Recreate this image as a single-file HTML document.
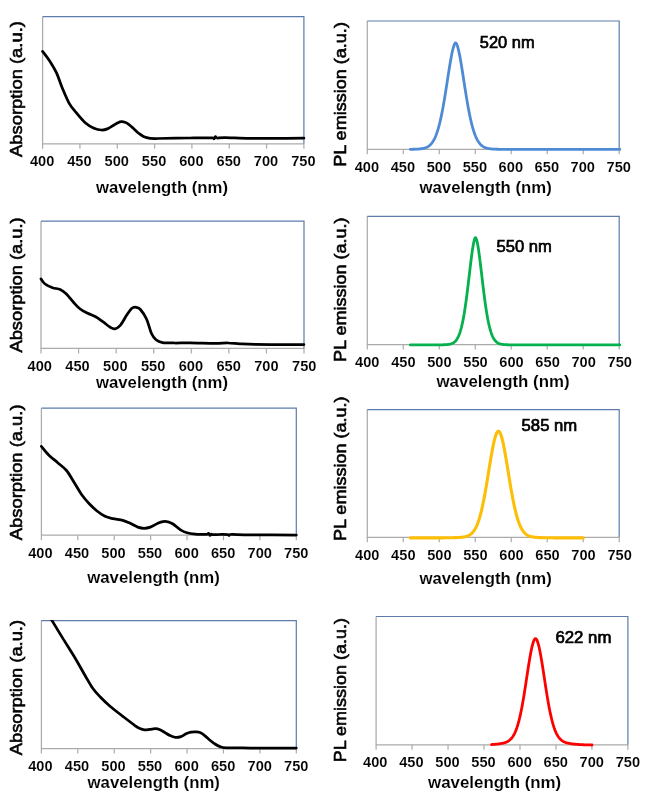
<!DOCTYPE html>
<html lang="en"><head><meta charset="utf-8"><title>Absorption and PL emission spectra</title>
<style>html,body{margin:0;padding:0;background:#fff}svg{display:block;filter:blur(0.35px)}text{font-family:"Liberation Sans", sans-serif;fill:#000}</style></head><body>
<svg width="650" height="798" viewBox="0 0 650 798">
<rect width="650" height="798" fill="#fff"/>
<g id="panel1">
<path d="M42.60,16.70 V143.80 H303.90" fill="none" stroke="#ababab" stroke-width="1.25"/>
<path d="M42.60,143.80 v5 M79.93,143.80 v5 M117.26,143.80 v5 M154.59,143.80 v5 M191.91,143.80 v5 M229.24,143.80 v5 M266.57,143.80 v5 M303.90,143.80 v5 " fill="none" stroke="#ababab" stroke-width="1.2"/>
<path d="M42.60,16.70 H303.90 V143.80" fill="none" stroke="#5c7cab" stroke-width="1.2"/>
<path d="M42.60,51.40 C43.83,53.07 47.70,57.85 50.00,61.40 C52.30,64.95 54.28,68.10 56.40,72.70 C58.52,77.30 60.62,83.98 62.70,89.00 C64.78,94.02 66.82,99.05 68.90,102.80 C70.98,106.55 72.48,108.17 75.20,111.50 C77.92,114.83 82.07,120.00 85.20,122.80 C88.33,125.60 91.28,127.10 94.00,128.30 C96.72,129.50 99.17,129.95 101.50,130.00 C103.83,130.05 105.92,129.43 108.00,128.60 C110.08,127.77 112.33,125.98 114.00,125.00 C115.67,124.02 116.75,123.25 118.00,122.70 C119.25,122.15 120.33,121.77 121.50,121.70 C122.67,121.63 123.75,121.82 125.00,122.30 C126.25,122.78 127.50,123.48 129.00,124.60 C130.50,125.72 132.33,127.52 134.00,129.00 C135.67,130.48 137.33,132.20 139.00,133.50 C140.67,134.80 142.17,136.00 144.00,136.80 C145.83,137.60 147.67,138.02 150.00,138.30 C152.33,138.58 151.33,138.55 158.00,138.50 C164.67,138.45 181.00,138.10 190.00,138.00 C199.00,137.90 208.00,137.77 212.00,137.90 C216.00,138.03 213.42,139.02 214.00,138.80 C214.58,138.58 215.00,136.73 215.50,136.60 C216.00,136.47 215.42,137.83 217.00,138.00 C218.58,138.17 219.50,137.53 225.00,137.60 C230.50,137.67 240.83,138.27 250.00,138.40 C259.17,138.53 271.02,138.43 280.00,138.40 C288.98,138.37 299.92,138.23 303.90,138.20" fill="none" stroke="#000" stroke-width="2.75" stroke-linecap="round" stroke-linejoin="round"/>
<text x="42.10" y="165.80" font-size="14.4" font-weight="bold" stroke="#fff" stroke-width="0.1" text-anchor="middle" textLength="24.4" lengthAdjust="spacingAndGlyphs">400</text>
<text x="79.43" y="165.80" font-size="14.4" font-weight="bold" stroke="#fff" stroke-width="0.1" text-anchor="middle" textLength="24.4" lengthAdjust="spacingAndGlyphs">450</text>
<text x="116.76" y="165.80" font-size="14.4" font-weight="bold" stroke="#fff" stroke-width="0.1" text-anchor="middle" textLength="24.4" lengthAdjust="spacingAndGlyphs">500</text>
<text x="154.09" y="165.80" font-size="14.4" font-weight="bold" stroke="#fff" stroke-width="0.1" text-anchor="middle" textLength="24.4" lengthAdjust="spacingAndGlyphs">550</text>
<text x="191.41" y="165.80" font-size="14.4" font-weight="bold" stroke="#fff" stroke-width="0.1" text-anchor="middle" textLength="24.4" lengthAdjust="spacingAndGlyphs">600</text>
<text x="228.74" y="165.80" font-size="14.4" font-weight="bold" stroke="#fff" stroke-width="0.1" text-anchor="middle" textLength="24.4" lengthAdjust="spacingAndGlyphs">650</text>
<text x="266.07" y="165.80" font-size="14.4" font-weight="bold" stroke="#fff" stroke-width="0.1" text-anchor="middle" textLength="24.4" lengthAdjust="spacingAndGlyphs">700</text>
<text x="303.40" y="165.80" font-size="14.4" font-weight="bold" stroke="#fff" stroke-width="0.1" text-anchor="middle" textLength="24.4" lengthAdjust="spacingAndGlyphs">750</text>
<text x="96.00" y="192.50" font-size="17" font-weight="bold" stroke="#fff" stroke-width="0.12" textLength="132.00" lengthAdjust="spacingAndGlyphs">wavelength (nm)</text>
<text transform="translate(22.30,157.00) rotate(-90)" font-size="17.2" stroke="#000" stroke-width="0.6" textLength="135.90" lengthAdjust="spacingAndGlyphs">Absorption (a.u.)</text>
</g>
<g id="panel2">
<path d="M367.30,21.00 V149.30 H619.20" fill="none" stroke="#ababab" stroke-width="1.25"/>
<path d="M367.30,149.30 v5 M403.29,149.30 v5 M439.27,149.30 v5 M475.26,149.30 v5 M511.24,149.30 v5 M547.23,149.30 v5 M583.21,149.30 v5 M619.20,149.30 v5 " fill="none" stroke="#ababab" stroke-width="1.2"/>
<path d="M367.30,21.00 H619.20 V149.30" fill="none" stroke="#5c7cab" stroke-width="1.2"/>
<path d="M410.30,149.31 L410.80,149.30 L411.30,149.30 L411.80,149.29 L412.30,149.28 L412.80,149.27 L413.30,149.26 L413.80,149.24 L414.30,149.23 L414.80,149.22 L415.30,149.20 L415.80,149.18 L416.30,149.16 L416.80,149.14 L417.30,149.11 L417.80,149.08 L418.30,149.05 L418.80,149.01 L419.30,148.97 L419.80,148.93 L420.30,148.87 L420.80,148.81 L421.30,148.75 L421.80,148.68 L422.30,148.59 L422.80,148.50 L423.30,148.40 L423.80,148.28 L424.30,148.15 L424.80,148.00 L425.30,147.84 L425.80,147.66 L426.30,147.45 L426.80,147.22 L427.30,146.97 L427.80,146.69 L428.30,146.38 L428.80,146.04 L429.30,145.66 L429.80,145.24 L430.30,144.77 L430.80,144.26 L431.30,143.70 L431.80,143.09 L432.30,142.42 L432.80,141.69 L433.30,140.89 L433.80,140.03 L434.30,139.08 L434.80,138.07 L435.30,136.96 L435.80,135.78 L436.30,134.50 L436.80,133.13 L437.30,131.66 L437.80,130.09 L438.30,128.41 L438.80,126.63 L439.30,124.75 L439.80,122.75 L440.30,120.64 L440.80,118.42 L441.30,116.09 L441.80,113.65 L442.30,111.11 L442.80,108.46 L443.30,105.72 L443.80,102.88 L444.30,99.95 L444.80,96.95 L445.30,93.88 L445.80,90.75 L446.30,87.57 L446.80,84.35 L447.30,81.12 L447.80,77.88 L448.30,74.66 L448.80,71.46 L449.30,68.32 L449.80,65.24 L450.30,62.26 L450.80,59.39 L451.30,56.65 L451.80,54.08 L452.30,51.70 L452.80,49.52 L453.30,47.59 L453.80,45.93 L454.30,44.57 L454.80,43.55 L455.30,42.93 L455.80,42.86 L456.30,43.40 L456.80,44.34 L457.30,45.63 L457.80,47.24 L458.30,49.12 L458.80,51.24 L459.30,53.59 L459.80,56.12 L460.30,58.83 L460.80,61.67 L461.30,64.64 L461.80,67.69 L462.30,70.83 L462.80,74.01 L463.30,77.24 L463.80,80.47 L464.30,83.71 L464.80,86.93 L465.30,90.11 L465.80,93.26 L466.30,96.34 L466.80,99.36 L467.30,102.30 L467.80,105.16 L468.30,107.92 L468.80,110.59 L469.30,113.15 L469.80,115.61 L470.30,117.96 L470.80,120.21 L471.30,122.34 L471.80,124.36 L472.30,126.27 L472.80,128.07 L473.30,129.76 L473.80,131.35 L474.30,132.84 L474.80,134.23 L475.30,135.53 L475.80,136.73 L476.30,137.85 L476.80,138.89 L477.30,139.84 L477.80,140.72 L478.30,141.54 L478.80,142.28 L479.30,142.96 L479.80,143.59 L480.30,144.16 L480.80,144.67 L481.30,145.15 L481.80,145.57 L482.30,145.96 L482.80,146.31 L483.30,146.63 L483.80,146.92 L484.30,147.18 L484.80,147.41 L485.30,147.62 L485.80,147.80 L486.30,147.97 L486.80,148.12 L487.30,148.25 L487.80,148.37 L488.30,148.48 L488.80,148.57 L489.30,148.66 L489.80,148.74 L490.30,148.80 L490.80,148.86 L491.30,148.92 L491.80,148.96 L492.30,149.00 L492.80,149.04 L493.30,149.08 L493.80,149.11 L494.30,149.13 L494.80,149.16 L495.30,149.18 L495.80,149.20 L496.30,149.21 L496.80,149.23 L497.30,149.24 L497.80,149.25 L498.30,149.27 L498.80,149.28 L499.30,149.29 L499.80,149.29 L500.30,149.30 L500.80,149.31 L501.30,149.32 L501.80,149.32 L502.30,149.33 L502.80,149.33 L503.30,149.34 L503.80,149.34 L504.30,149.34 L504.80,149.35 L505.30,149.35 L505.80,149.36 L506.30,149.36 L506.80,149.36 L507.30,149.36 L507.80,149.37 L508.30,149.37 L508.80,149.37 L509.30,149.37 L509.80,149.37 L510.30,149.38 L510.80,149.38 L511.30,149.38 L511.80,149.38 L512.30,149.38 L512.80,149.38 L513.30,149.38 L513.80,149.39 L514.30,149.39 L514.80,149.39 L515.30,149.39 L515.80,149.39 L516.30,149.39 L516.80,149.39 L517.30,149.39 L517.80,149.39 L518.30,149.39 L518.80,149.39 L519.30,149.39 L519.80,149.39 L520.30,149.39 L520.80,149.40 L521.30,149.40 L521.80,149.40 L522.30,149.40 L522.80,149.40 L523.30,149.40 L523.80,149.40 L524.30,149.40 L524.80,149.40 L525.30,149.40 L525.80,149.40 L526.30,149.40 L526.80,149.40 L527.30,149.40 L527.80,149.40 L528.30,149.40 L528.80,149.40 L529.30,149.40 L529.80,149.40 L530.30,149.40 L530.80,149.40 L531.30,149.40 L531.80,149.40 L532.30,149.40 L532.80,149.40 L533.30,149.40 L533.80,149.40 L534.30,149.40 L534.80,149.40 L535.30,149.40 L535.80,149.40 L536.30,149.40 L536.80,149.40 L537.30,149.40 L537.80,149.40 L538.30,149.40 L538.80,149.40 L539.30,149.40 L539.80,149.40 L540.30,149.40 L540.80,149.40 L541.30,149.40 L541.80,149.40 L542.30,149.40 L542.80,149.40 L543.30,149.40 L543.80,149.40 L544.30,149.40 L544.80,149.40 L545.30,149.40 L545.80,149.40 L546.30,149.40 L546.80,149.40 L547.30,149.40 L547.80,149.40 L548.30,149.40 L548.80,149.40 L549.30,149.40 L549.80,149.40 L550.30,149.40 L550.80,149.40 L551.30,149.40 L551.80,149.40 L552.30,149.40 L552.80,149.40 L553.30,149.40 L553.80,149.40 L554.30,149.40 L554.80,149.40 L555.30,149.40 L555.80,149.40 L556.30,149.40 L556.80,149.40 L557.30,149.40 L557.80,149.40 L558.30,149.40 L558.80,149.40 L559.30,149.40 L559.80,149.40 L560.30,149.40 L560.80,149.40 L561.30,149.40 L561.80,149.40 L562.30,149.40 L562.80,149.40 L563.30,149.40 L563.80,149.40 L564.30,149.40 L564.80,149.40 L565.30,149.40 L565.80,149.40 L566.30,149.40 L566.80,149.40 L567.30,149.40 L567.80,149.40 L568.30,149.40 L568.80,149.40 L569.30,149.40 L569.80,149.40 L570.30,149.40 L570.80,149.40 L571.30,149.40 L571.80,149.40 L572.30,149.40 L572.80,149.40 L573.30,149.40 L573.80,149.40 L574.30,149.40 L574.80,149.40 L575.30,149.40 L575.80,149.40 L576.30,149.40 L576.80,149.40 L577.30,149.40 L577.80,149.40 L578.30,149.40 L578.80,149.40 L579.30,149.40 L579.80,149.40 L580.30,149.40 L580.80,149.40 L581.30,149.40 L581.80,149.40 L582.30,149.40 L582.80,149.40 L583.30,149.40 L583.80,149.40 L584.30,149.40 L584.80,149.40 L585.30,149.40 L585.80,149.40 L586.30,149.40 L586.80,149.40 L587.30,149.40 L587.80,149.40 L588.30,149.40 L588.80,149.40 L589.30,149.40 L589.80,149.40 L590.30,149.40 L590.80,149.40 L591.30,149.40 L591.80,149.40 L592.30,149.40 L592.80,149.40 L593.30,149.40 L593.80,149.40 L594.30,149.40 L594.80,149.40 L595.30,149.40 L595.80,149.40 L596.30,149.40 L596.80,149.40 L597.30,149.40 L597.80,149.40 L598.30,149.40 L598.80,149.40 L599.30,149.40 L599.80,149.40 L600.30,149.40 L600.80,149.40 L601.30,149.40 L601.80,149.40 L602.30,149.40 L602.80,149.40 L603.30,149.40 L603.80,149.40 L604.30,149.40 L604.80,149.40 L605.30,149.40 L605.80,149.40 L606.30,149.40 L606.80,149.40 L607.30,149.40 L607.80,149.40 L608.30,149.40 L608.80,149.40 L609.30,149.40 L609.80,149.40 L610.30,149.40 L610.80,149.40 L611.30,149.40 L611.80,149.40 L612.30,149.40 L612.80,149.40 L613.30,149.40 L613.80,149.40 L614.30,149.40 L614.80,149.40 L615.30,149.40 L615.80,149.40 L616.30,149.40 L616.80,149.40 L617.30,149.40 L617.80,149.40 L618.30,149.40 L618.80,149.40 L619.30,149.40 L619.80,149.40" fill="none" stroke="#4f8ad5" stroke-width="2.8" stroke-linecap="round" stroke-linejoin="round"/>
<text x="366.90" y="171.80" font-size="14.4" font-weight="bold" stroke="#fff" stroke-width="0.1" text-anchor="middle" textLength="24.4" lengthAdjust="spacingAndGlyphs">400</text>
<text x="402.89" y="171.80" font-size="14.4" font-weight="bold" stroke="#fff" stroke-width="0.1" text-anchor="middle" textLength="24.4" lengthAdjust="spacingAndGlyphs">450</text>
<text x="438.87" y="171.80" font-size="14.4" font-weight="bold" stroke="#fff" stroke-width="0.1" text-anchor="middle" textLength="24.4" lengthAdjust="spacingAndGlyphs">500</text>
<text x="474.86" y="171.80" font-size="14.4" font-weight="bold" stroke="#fff" stroke-width="0.1" text-anchor="middle" textLength="24.4" lengthAdjust="spacingAndGlyphs">550</text>
<text x="510.84" y="171.80" font-size="14.4" font-weight="bold" stroke="#fff" stroke-width="0.1" text-anchor="middle" textLength="24.4" lengthAdjust="spacingAndGlyphs">600</text>
<text x="546.83" y="171.80" font-size="14.4" font-weight="bold" stroke="#fff" stroke-width="0.1" text-anchor="middle" textLength="24.4" lengthAdjust="spacingAndGlyphs">650</text>
<text x="582.81" y="171.80" font-size="14.4" font-weight="bold" stroke="#fff" stroke-width="0.1" text-anchor="middle" textLength="24.4" lengthAdjust="spacingAndGlyphs">700</text>
<text x="618.80" y="171.80" font-size="14.4" font-weight="bold" stroke="#fff" stroke-width="0.1" text-anchor="middle" textLength="24.4" lengthAdjust="spacingAndGlyphs">750</text>
<text x="419.50" y="192.50" font-size="17" font-weight="bold" stroke="#fff" stroke-width="0.12" textLength="132.30" lengthAdjust="spacingAndGlyphs">wavelength (nm)</text>
<text transform="translate(346.00,166.80) rotate(-90)" font-size="17.2" stroke="#000" stroke-width="0.6" textLength="144.70" lengthAdjust="spacingAndGlyphs">PL emission (a.u.)</text>
<text x="479.80" y="47.70" font-size="17" stroke="#000" stroke-width="0.7" textLength="54.80" lengthAdjust="spacingAndGlyphs">520 nm</text>
</g>
<g id="panel3">
<path d="M41.00,221.20 V348.40 H304.00" fill="none" stroke="#ababab" stroke-width="1.25"/>
<path d="M41.00,348.40 v5 M78.57,348.40 v5 M116.14,348.40 v5 M153.71,348.40 v5 M191.29,348.40 v5 M228.86,348.40 v5 M266.43,348.40 v5 M304.00,348.40 v5 " fill="none" stroke="#ababab" stroke-width="1.2"/>
<path d="M41.00,221.20 H304.00 V348.40" fill="none" stroke="#5c7cab" stroke-width="1.2"/>
<path d="M41.00,278.90 C41.68,279.75 43.17,282.53 45.10,284.00 C47.03,285.47 50.08,286.78 52.60,287.70 C55.12,288.62 57.90,288.45 60.20,289.50 C62.50,290.55 64.12,291.78 66.40,294.00 C68.68,296.22 71.60,300.30 73.90,302.80 C76.20,305.30 77.90,307.25 80.20,309.00 C82.50,310.75 85.20,312.05 87.70,313.30 C90.20,314.55 92.68,315.12 95.20,316.50 C97.72,317.88 100.28,319.80 102.80,321.60 C105.32,323.40 108.30,326.10 110.30,327.30 C112.30,328.50 113.13,329.13 114.80,328.80 C116.47,328.47 118.33,327.55 120.30,325.30 C122.27,323.05 124.72,318.10 126.60,315.30 C128.48,312.50 130.02,309.83 131.60,308.50 C133.18,307.17 134.63,307.13 136.10,307.30 C137.57,307.47 138.67,307.55 140.40,309.50 C142.13,311.45 144.65,315.00 146.50,319.00 C148.35,323.00 149.92,330.03 151.50,333.50 C153.08,336.97 154.17,338.28 156.00,339.80 C157.83,341.32 159.33,342.07 162.50,342.60 C165.67,343.13 170.42,342.97 175.00,343.00 C179.58,343.03 183.33,342.75 190.00,342.80 C196.67,342.85 208.67,343.27 215.00,343.30 C221.33,343.33 223.83,342.92 228.00,343.00 C232.17,343.08 235.50,343.57 240.00,343.80 C244.50,344.03 248.33,344.27 255.00,344.40 C261.67,344.53 271.85,344.57 280.00,344.60 C288.15,344.63 299.92,344.60 303.90,344.60" fill="none" stroke="#000" stroke-width="2.75" stroke-linecap="round" stroke-linejoin="round"/>
<text x="39.80" y="370.80" font-size="14.4" font-weight="bold" stroke="#fff" stroke-width="0.1" text-anchor="middle" textLength="24.4" lengthAdjust="spacingAndGlyphs">400</text>
<text x="77.57" y="370.80" font-size="14.4" font-weight="bold" stroke="#fff" stroke-width="0.1" text-anchor="middle" textLength="24.4" lengthAdjust="spacingAndGlyphs">450</text>
<text x="115.34" y="370.80" font-size="14.4" font-weight="bold" stroke="#fff" stroke-width="0.1" text-anchor="middle" textLength="24.4" lengthAdjust="spacingAndGlyphs">500</text>
<text x="153.11" y="370.80" font-size="14.4" font-weight="bold" stroke="#fff" stroke-width="0.1" text-anchor="middle" textLength="24.4" lengthAdjust="spacingAndGlyphs">550</text>
<text x="190.89" y="370.80" font-size="14.4" font-weight="bold" stroke="#fff" stroke-width="0.1" text-anchor="middle" textLength="24.4" lengthAdjust="spacingAndGlyphs">600</text>
<text x="228.66" y="370.80" font-size="14.4" font-weight="bold" stroke="#fff" stroke-width="0.1" text-anchor="middle" textLength="24.4" lengthAdjust="spacingAndGlyphs">650</text>
<text x="266.43" y="370.80" font-size="14.4" font-weight="bold" stroke="#fff" stroke-width="0.1" text-anchor="middle" textLength="24.4" lengthAdjust="spacingAndGlyphs">700</text>
<text x="304.20" y="370.80" font-size="14.4" font-weight="bold" stroke="#fff" stroke-width="0.1" text-anchor="middle" textLength="24.4" lengthAdjust="spacingAndGlyphs">750</text>
<text x="96.00" y="387.50" font-size="17" font-weight="bold" stroke="#fff" stroke-width="0.12" textLength="132.00" lengthAdjust="spacingAndGlyphs">wavelength (nm)</text>
<text transform="translate(22.30,352.50) rotate(-90)" font-size="17.2" stroke="#000" stroke-width="0.6" textLength="135.20" lengthAdjust="spacingAndGlyphs">Absorption (a.u.)</text>
</g>
<g id="panel4">
<path d="M367.30,216.30 V344.50 H619.20" fill="none" stroke="#ababab" stroke-width="1.25"/>
<path d="M367.30,344.50 v5 M403.29,344.50 v5 M439.27,344.50 v5 M475.26,344.50 v5 M511.24,344.50 v5 M547.23,344.50 v5 M583.21,344.50 v5 M619.20,344.50 v5 " fill="none" stroke="#ababab" stroke-width="1.2"/>
<path d="M367.30,216.30 H619.20 V344.50" fill="none" stroke="#5c7cab" stroke-width="1.2"/>
<path d="M410.30,344.90 L410.80,344.90 L411.30,344.90 L411.80,344.90 L412.30,344.90 L412.80,344.90 L413.30,344.90 L413.80,344.90 L414.30,344.90 L414.80,344.90 L415.30,344.90 L415.80,344.90 L416.30,344.90 L416.80,344.90 L417.30,344.90 L417.80,344.90 L418.30,344.90 L418.80,344.90 L419.30,344.90 L419.80,344.90 L420.30,344.90 L420.80,344.90 L421.30,344.90 L421.80,344.90 L422.30,344.90 L422.80,344.90 L423.30,344.90 L423.80,344.90 L424.30,344.90 L424.80,344.90 L425.30,344.90 L425.80,344.90 L426.30,344.90 L426.80,344.89 L427.30,344.89 L427.80,344.89 L428.30,344.89 L428.80,344.89 L429.30,344.89 L429.80,344.89 L430.30,344.89 L430.80,344.89 L431.30,344.89 L431.80,344.89 L432.30,344.88 L432.80,344.88 L433.30,344.88 L433.80,344.88 L434.30,344.88 L434.80,344.88 L435.30,344.87 L435.80,344.87 L436.30,344.87 L436.80,344.86 L437.30,344.86 L437.80,344.86 L438.30,344.85 L438.80,344.85 L439.30,344.84 L439.80,344.84 L440.30,344.83 L440.80,344.82 L441.30,344.82 L441.80,344.81 L442.30,344.80 L442.80,344.78 L443.30,344.77 L443.80,344.76 L444.30,344.74 L444.80,344.72 L445.30,344.69 L445.80,344.66 L446.30,344.63 L446.80,344.59 L447.30,344.55 L447.80,344.49 L448.30,344.43 L448.80,344.36 L449.30,344.27 L449.80,344.18 L450.30,344.06 L450.80,343.93 L451.30,343.77 L451.80,343.59 L452.30,343.38 L452.80,343.13 L453.30,342.85 L453.80,342.53 L454.30,342.16 L454.80,341.74 L455.30,341.25 L455.80,340.70 L456.30,340.07 L456.80,339.36 L457.30,338.56 L457.80,337.66 L458.30,336.66 L458.80,335.53 L459.30,334.28 L459.80,332.89 L460.30,331.36 L460.80,329.67 L461.30,327.82 L461.80,325.79 L462.30,323.59 L462.80,321.21 L463.30,318.64 L463.80,315.88 L464.30,312.93 L464.80,309.80 L465.30,306.48 L465.80,302.98 L466.30,299.32 L466.80,295.50 L467.30,291.55 L467.80,287.48 L468.30,283.32 L468.80,279.09 L469.30,274.84 L469.80,270.59 L470.30,266.38 L470.80,262.26 L471.30,258.28 L471.80,254.47 L472.30,250.90 L472.80,247.61 L473.30,244.67 L473.80,242.14 L474.30,240.07 L474.80,238.56 L475.30,237.70 L475.80,237.81 L476.30,238.81 L476.80,240.44 L477.30,242.61 L477.80,245.23 L478.30,248.24 L478.80,251.59 L479.30,255.21 L479.80,259.06 L480.30,263.08 L480.80,267.22 L481.30,271.44 L481.80,275.69 L482.30,279.94 L482.80,284.16 L483.30,288.30 L483.80,292.35 L484.30,296.27 L484.80,300.06 L485.30,303.69 L485.80,307.16 L486.30,310.44 L486.80,313.54 L487.30,316.45 L487.80,319.17 L488.30,321.70 L488.80,324.05 L489.30,326.21 L489.80,328.20 L490.30,330.02 L490.80,331.67 L491.30,333.18 L491.80,334.54 L492.30,335.77 L492.80,336.87 L493.30,337.85 L493.80,338.73 L494.30,339.51 L494.80,340.20 L495.30,340.82 L495.80,341.35 L496.30,341.83 L496.80,342.24 L497.30,342.60 L497.80,342.91 L498.30,343.19 L498.80,343.42 L499.30,343.63 L499.80,343.80 L500.30,343.95 L500.80,344.08 L501.30,344.20 L501.80,344.29 L502.30,344.37 L502.80,344.44 L503.30,344.50 L503.80,344.56 L504.30,344.60 L504.80,344.64 L505.30,344.67 L505.80,344.70 L506.30,344.72 L506.80,344.74 L507.30,344.76 L507.80,344.77 L508.30,344.79 L508.80,344.80 L509.30,344.81 L509.80,344.82 L510.30,344.83 L510.80,344.83 L511.30,344.84 L511.80,344.84 L512.30,344.85 L512.80,344.85 L513.30,344.86 L513.80,344.86 L514.30,344.87 L514.80,344.87 L515.30,344.87 L515.80,344.87 L516.30,344.88 L516.80,344.88 L517.30,344.88 L517.80,344.88 L518.30,344.88 L518.80,344.89 L519.30,344.89 L519.80,344.89 L520.30,344.89 L520.80,344.89 L521.30,344.89 L521.80,344.89 L522.30,344.89 L522.80,344.89 L523.30,344.89 L523.80,344.89 L524.30,344.90 L524.80,344.90 L525.30,344.90 L525.80,344.90 L526.30,344.90 L526.80,344.90 L527.30,344.90 L527.80,344.90 L528.30,344.90 L528.80,344.90 L529.30,344.90 L529.80,344.90 L530.30,344.90 L530.80,344.90 L531.30,344.90 L531.80,344.90 L532.30,344.90 L532.80,344.90 L533.30,344.90 L533.80,344.90 L534.30,344.90 L534.80,344.90 L535.30,344.90 L535.80,344.90 L536.30,344.90 L536.80,344.90 L537.30,344.90 L537.80,344.90 L538.30,344.90 L538.80,344.90 L539.30,344.90 L539.80,344.90 L540.30,344.90 L540.80,344.90 L541.30,344.90 L541.80,344.90 L542.30,344.90 L542.80,344.90 L543.30,344.90 L543.80,344.90 L544.30,344.90 L544.80,344.90 L545.30,344.90 L545.80,344.90 L546.30,344.90 L546.80,344.90 L547.30,344.90 L547.80,344.90 L548.30,344.90 L548.80,344.90 L549.30,344.90 L549.80,344.90 L550.30,344.90 L550.80,344.90 L551.30,344.90 L551.80,344.90 L552.30,344.90 L552.80,344.90 L553.30,344.90 L553.80,344.90 L554.30,344.90 L554.80,344.90 L555.30,344.90 L555.80,344.90 L556.30,344.90 L556.80,344.90 L557.30,344.90 L557.80,344.90 L558.30,344.90 L558.80,344.90 L559.30,344.90 L559.80,344.90 L560.30,344.90 L560.80,344.90 L561.30,344.90 L561.80,344.90 L562.30,344.90 L562.80,344.90 L563.30,344.90 L563.80,344.90 L564.30,344.90 L564.80,344.90 L565.30,344.90 L565.80,344.90 L566.30,344.90 L566.80,344.90 L567.30,344.90 L567.80,344.90 L568.30,344.90 L568.80,344.90 L569.30,344.90 L569.80,344.90 L570.30,344.90 L570.80,344.90 L571.30,344.90 L571.80,344.90 L572.30,344.90 L572.80,344.90 L573.30,344.90 L573.80,344.90 L574.30,344.90 L574.80,344.90 L575.30,344.90 L575.80,344.90 L576.30,344.90 L576.80,344.90 L577.30,344.90 L577.80,344.90 L578.30,344.90 L578.80,344.90 L579.30,344.90 L579.80,344.90 L580.30,344.90 L580.80,344.90 L581.30,344.90 L581.80,344.90 L582.30,344.90 L582.80,344.90 L583.30,344.90 L583.80,344.90 L584.30,344.90 L584.80,344.90 L585.30,344.90 L585.80,344.90 L586.30,344.90 L586.80,344.90 L587.30,344.90 L587.80,344.90 L588.30,344.90 L588.80,344.90 L589.30,344.90 L589.80,344.90 L590.30,344.90 L590.80,344.90 L591.30,344.90 L591.80,344.90 L592.30,344.90 L592.80,344.90 L593.30,344.90 L593.80,344.90 L594.30,344.90 L594.80,344.90 L595.30,344.90 L595.80,344.90 L596.30,344.90 L596.80,344.90 L597.30,344.90 L597.80,344.90 L598.30,344.90 L598.80,344.90 L599.30,344.90 L599.80,344.90 L600.30,344.90 L600.80,344.90 L601.30,344.90 L601.80,344.90 L602.30,344.90 L602.80,344.90 L603.30,344.90 L603.80,344.90 L604.30,344.90 L604.80,344.90 L605.30,344.90 L605.80,344.90 L606.30,344.90 L606.80,344.90 L607.30,344.90 L607.80,344.90 L608.30,344.90 L608.80,344.90 L609.30,344.90 L609.80,344.90 L610.30,344.90 L610.80,344.90 L611.30,344.90 L611.80,344.90 L612.30,344.90 L612.80,344.90 L613.30,344.90 L613.80,344.90 L614.30,344.90 L614.80,344.90 L615.30,344.90 L615.80,344.90 L616.30,344.90 L616.80,344.90 L617.30,344.90 L617.80,344.90 L618.30,344.90 L618.80,344.90 L619.30,344.90 L619.80,344.90" fill="none" stroke="#05b04e" stroke-width="2.8" stroke-linecap="round" stroke-linejoin="round"/>
<text x="367.30" y="367.20" font-size="14.4" font-weight="bold" stroke="#fff" stroke-width="0.1" text-anchor="middle" textLength="24.4" lengthAdjust="spacingAndGlyphs">400</text>
<text x="403.36" y="367.20" font-size="14.4" font-weight="bold" stroke="#fff" stroke-width="0.1" text-anchor="middle" textLength="24.4" lengthAdjust="spacingAndGlyphs">450</text>
<text x="439.41" y="367.20" font-size="14.4" font-weight="bold" stroke="#fff" stroke-width="0.1" text-anchor="middle" textLength="24.4" lengthAdjust="spacingAndGlyphs">500</text>
<text x="475.47" y="367.20" font-size="14.4" font-weight="bold" stroke="#fff" stroke-width="0.1" text-anchor="middle" textLength="24.4" lengthAdjust="spacingAndGlyphs">550</text>
<text x="511.53" y="367.20" font-size="14.4" font-weight="bold" stroke="#fff" stroke-width="0.1" text-anchor="middle" textLength="24.4" lengthAdjust="spacingAndGlyphs">600</text>
<text x="547.59" y="367.20" font-size="14.4" font-weight="bold" stroke="#fff" stroke-width="0.1" text-anchor="middle" textLength="24.4" lengthAdjust="spacingAndGlyphs">650</text>
<text x="583.64" y="367.20" font-size="14.4" font-weight="bold" stroke="#fff" stroke-width="0.1" text-anchor="middle" textLength="24.4" lengthAdjust="spacingAndGlyphs">700</text>
<text x="619.70" y="367.20" font-size="14.4" font-weight="bold" stroke="#fff" stroke-width="0.1" text-anchor="middle" textLength="24.4" lengthAdjust="spacingAndGlyphs">750</text>
<text x="436.50" y="387.30" font-size="17" font-weight="bold" stroke="#fff" stroke-width="0.12" textLength="133.10" lengthAdjust="spacingAndGlyphs">wavelength (nm)</text>
<text transform="translate(346.00,361.90) rotate(-90)" font-size="17.2" stroke="#000" stroke-width="0.6" textLength="144.50" lengthAdjust="spacingAndGlyphs">PL emission (a.u.)</text>
<text x="496.60" y="252.20" font-size="17" stroke="#000" stroke-width="0.7" textLength="55.30" lengthAdjust="spacingAndGlyphs">550 nm</text>
</g>
<g id="panel5">
<path d="M41.40,408.20 V535.20 H296.30" fill="none" stroke="#ababab" stroke-width="1.25"/>
<path d="M41.40,535.20 v5 M77.81,535.20 v5 M114.23,535.20 v5 M150.64,535.20 v5 M187.06,535.20 v5 M223.47,535.20 v5 M259.89,535.20 v5 M296.30,535.20 v5 " fill="none" stroke="#ababab" stroke-width="1.2"/>
<path d="M41.40,408.20 H296.30 V535.20" fill="none" stroke="#5c7cab" stroke-width="1.2"/>
<path d="M41.40,446.40 C42.65,447.87 46.18,452.48 48.90,455.20 C51.62,457.92 54.77,460.15 57.70,462.70 C60.63,465.25 63.70,467.12 66.50,470.50 C69.30,473.88 71.87,478.83 74.50,483.00 C77.13,487.17 79.80,492.00 82.30,495.50 C84.80,499.00 87.05,501.42 89.50,504.00 C91.95,506.58 94.42,508.95 97.00,511.00 C99.58,513.05 102.37,515.03 105.00,516.30 C107.63,517.57 109.83,517.93 112.80,518.60 C115.77,519.27 119.88,519.52 122.80,520.30 C125.72,521.08 127.80,522.17 130.30,523.30 C132.80,524.43 135.50,526.27 137.80,527.10 C140.10,527.93 142.00,528.30 144.10,528.30 C146.20,528.30 148.10,527.93 150.40,527.10 C152.70,526.27 155.80,524.22 157.90,523.30 C160.00,522.38 161.32,521.85 163.00,521.60 C164.68,521.35 166.33,521.40 168.00,521.80 C169.67,522.20 170.92,522.67 173.00,524.00 C175.08,525.33 178.17,528.33 180.50,529.80 C182.83,531.27 184.58,532.08 187.00,532.80 C189.42,533.52 192.33,533.83 195.00,534.10 C197.67,534.37 201.00,534.35 203.00,534.40 C205.00,534.45 206.08,534.57 207.00,534.40 C207.92,534.23 208.00,533.23 208.50,533.40 C209.00,533.57 209.50,535.27 210.00,535.40 C210.50,535.53 210.92,534.32 211.50,534.20 C212.08,534.08 212.08,534.65 213.50,534.70 C214.92,534.75 217.67,534.52 220.00,534.50 C222.33,534.48 226.00,534.43 227.50,534.60 C229.00,534.77 228.50,535.52 229.00,535.50 C229.50,535.48 227.00,534.62 230.50,534.50 C234.00,534.38 239.03,534.72 250.00,534.80 C260.97,534.88 288.58,534.97 296.30,535.00" fill="none" stroke="#000" stroke-width="2.75" stroke-linecap="round" stroke-linejoin="round"/>
<text x="40.40" y="557.50" font-size="14.4" font-weight="bold" stroke="#fff" stroke-width="0.1" text-anchor="middle" textLength="24.4" lengthAdjust="spacingAndGlyphs">400</text>
<text x="76.96" y="557.50" font-size="14.4" font-weight="bold" stroke="#fff" stroke-width="0.1" text-anchor="middle" textLength="24.4" lengthAdjust="spacingAndGlyphs">450</text>
<text x="113.51" y="557.50" font-size="14.4" font-weight="bold" stroke="#fff" stroke-width="0.1" text-anchor="middle" textLength="24.4" lengthAdjust="spacingAndGlyphs">500</text>
<text x="150.07" y="557.50" font-size="14.4" font-weight="bold" stroke="#fff" stroke-width="0.1" text-anchor="middle" textLength="24.4" lengthAdjust="spacingAndGlyphs">550</text>
<text x="186.63" y="557.50" font-size="14.4" font-weight="bold" stroke="#fff" stroke-width="0.1" text-anchor="middle" textLength="24.4" lengthAdjust="spacingAndGlyphs">600</text>
<text x="223.19" y="557.50" font-size="14.4" font-weight="bold" stroke="#fff" stroke-width="0.1" text-anchor="middle" textLength="24.4" lengthAdjust="spacingAndGlyphs">650</text>
<text x="259.74" y="557.50" font-size="14.4" font-weight="bold" stroke="#fff" stroke-width="0.1" text-anchor="middle" textLength="24.4" lengthAdjust="spacingAndGlyphs">700</text>
<text x="296.30" y="557.50" font-size="14.4" font-weight="bold" stroke="#fff" stroke-width="0.1" text-anchor="middle" textLength="24.4" lengthAdjust="spacingAndGlyphs">750</text>
<text x="87.20" y="583.20" font-size="17" font-weight="bold" stroke="#fff" stroke-width="0.12" textLength="132.60" lengthAdjust="spacingAndGlyphs">wavelength (nm)</text>
<text transform="translate(22.30,540.20) rotate(-90)" font-size="17.2" stroke="#000" stroke-width="0.6" textLength="135.70" lengthAdjust="spacingAndGlyphs">Absorption (a.u.)</text>
</g>
<g id="panel6">
<path d="M367.30,409.60 V537.30 H619.20" fill="none" stroke="#ababab" stroke-width="1.25"/>
<path d="M367.30,537.30 v5 M403.29,537.30 v5 M439.27,537.30 v5 M475.26,537.30 v5 M511.24,537.30 v5 M547.23,537.30 v5 M583.21,537.30 v5 M619.20,537.30 v5 " fill="none" stroke="#ababab" stroke-width="1.2"/>
<path d="M367.30,409.60 H619.20 V537.30" fill="none" stroke="#5c7cab" stroke-width="1.2"/>
<path d="M410.30,537.90 L410.80,537.90 L411.30,537.90 L411.80,537.90 L412.30,537.90 L412.80,537.90 L413.30,537.90 L413.80,537.90 L414.30,537.90 L414.80,537.90 L415.30,537.90 L415.80,537.90 L416.30,537.90 L416.80,537.90 L417.30,537.90 L417.80,537.90 L418.30,537.90 L418.80,537.90 L419.30,537.90 L419.80,537.90 L420.30,537.90 L420.80,537.90 L421.30,537.90 L421.80,537.90 L422.30,537.90 L422.80,537.90 L423.30,537.90 L423.80,537.89 L424.30,537.89 L424.80,537.89 L425.30,537.89 L425.80,537.89 L426.30,537.89 L426.80,537.89 L427.30,537.89 L427.80,537.89 L428.30,537.89 L428.80,537.89 L429.30,537.89 L429.80,537.89 L430.30,537.89 L430.80,537.89 L431.30,537.88 L431.80,537.88 L432.30,537.88 L432.80,537.88 L433.30,537.88 L433.80,537.88 L434.30,537.88 L434.80,537.88 L435.30,537.87 L435.80,537.87 L436.30,537.87 L436.80,537.87 L437.30,537.87 L437.80,537.86 L438.30,537.86 L438.80,537.86 L439.30,537.86 L439.80,537.85 L440.30,537.85 L440.80,537.85 L441.30,537.84 L441.80,537.84 L442.30,537.84 L442.80,537.83 L443.30,537.83 L443.80,537.83 L444.30,537.82 L444.80,537.82 L445.30,537.81 L445.80,537.81 L446.30,537.80 L446.80,537.80 L447.30,537.79 L447.80,537.79 L448.30,537.78 L448.80,537.77 L449.30,537.77 L449.80,537.76 L450.30,537.75 L450.80,537.74 L451.30,537.73 L451.80,537.72 L452.30,537.71 L452.80,537.70 L453.30,537.69 L453.80,537.68 L454.30,537.67 L454.80,537.66 L455.30,537.64 L455.80,537.63 L456.30,537.61 L456.80,537.59 L457.30,537.57 L457.80,537.55 L458.30,537.52 L458.80,537.50 L459.30,537.47 L459.80,537.44 L460.30,537.40 L460.80,537.36 L461.30,537.32 L461.80,537.27 L462.30,537.21 L462.80,537.15 L463.30,537.08 L463.80,537.00 L464.30,536.91 L464.80,536.82 L465.30,536.71 L465.80,536.58 L466.30,536.44 L466.80,536.29 L467.30,536.11 L467.80,535.92 L468.30,535.70 L468.80,535.46 L469.30,535.19 L469.80,534.88 L470.30,534.55 L470.80,534.18 L471.30,533.76 L471.80,533.31 L472.30,532.81 L472.80,532.25 L473.30,531.65 L473.80,530.98 L474.30,530.25 L474.80,529.46 L475.30,528.59 L475.80,527.65 L476.30,526.63 L476.80,525.52 L477.30,524.33 L477.80,523.05 L478.30,521.67 L478.80,520.20 L479.30,518.63 L479.80,516.95 L480.30,515.17 L480.80,513.28 L481.30,511.29 L481.80,509.19 L482.30,506.98 L482.80,504.67 L483.30,502.26 L483.80,499.75 L484.30,497.14 L484.80,494.45 L485.30,491.67 L485.80,488.82 L486.30,485.90 L486.80,482.92 L487.30,479.89 L487.80,476.83 L488.30,473.75 L488.80,470.65 L489.30,467.56 L489.80,464.49 L490.30,461.45 L490.80,458.46 L491.30,455.54 L491.80,452.71 L492.30,449.98 L492.80,447.36 L493.30,444.89 L493.80,442.56 L494.30,440.41 L494.80,438.45 L495.30,436.69 L495.80,435.14 L496.30,433.83 L496.80,432.77 L497.30,431.97 L497.80,431.44 L498.30,431.21 L498.80,431.31 L499.30,431.72 L499.80,432.42 L500.30,433.38 L500.80,434.59 L501.30,436.04 L501.80,437.72 L502.30,439.60 L502.80,441.68 L503.30,443.94 L503.80,446.35 L504.30,448.91 L504.80,451.60 L505.30,454.40 L505.80,457.29 L506.30,460.25 L506.80,463.27 L507.30,466.33 L507.80,469.41 L508.30,472.51 L508.80,475.60 L509.30,478.67 L509.80,481.72 L510.30,484.71 L510.80,487.66 L511.30,490.54 L511.80,493.35 L512.30,496.08 L512.80,498.72 L513.30,501.27 L513.80,503.72 L514.30,506.07 L514.80,508.32 L515.30,510.46 L515.80,512.50 L516.30,514.43 L516.80,516.25 L517.30,517.97 L517.80,519.58 L518.30,521.10 L518.80,522.51 L519.30,523.83 L519.80,525.06 L520.30,526.20 L520.80,527.25 L521.30,528.22 L521.80,529.12 L522.30,529.94 L522.80,530.70 L523.30,531.39 L523.80,532.02 L524.30,532.59 L524.80,533.11 L525.30,533.59 L525.80,534.02 L526.30,534.40 L526.80,534.75 L527.30,535.07 L527.80,535.35 L528.30,535.61 L528.80,535.83 L529.30,536.04 L529.80,536.22 L530.30,536.38 L530.80,536.53 L531.30,536.66 L531.80,536.77 L532.30,536.88 L532.80,536.97 L533.30,537.05 L533.80,537.12 L534.30,537.19 L534.80,537.25 L535.30,537.30 L535.80,537.34 L536.30,537.39 L536.80,537.42 L537.30,537.46 L537.80,537.49 L538.30,537.51 L538.80,537.54 L539.30,537.56 L539.80,537.58 L540.30,537.60 L540.80,537.62 L541.30,537.63 L541.80,537.65 L542.30,537.66 L542.80,537.68 L543.30,537.69 L543.80,537.70 L544.30,537.71 L544.80,537.72 L545.30,537.73 L545.80,537.74 L546.30,537.75 L546.80,537.75 L547.30,537.76 L547.80,537.77 L548.30,537.78 L548.80,537.78 L549.30,537.79 L549.80,537.79 L550.30,537.80 L550.80,537.81 L551.30,537.81 L551.80,537.82 L552.30,537.82 L552.80,537.82 L553.30,537.83 L553.80,537.83 L554.30,537.84 L554.80,537.84 L555.30,537.84 L555.80,537.85 L556.30,537.85 L556.80,537.85 L557.30,537.86 L557.80,537.86 L558.30,537.86 L558.80,537.86 L559.30,537.87 L559.80,537.87 L560.30,537.87 L560.80,537.87 L561.30,537.87 L561.80,537.87 L562.30,537.88 L562.80,537.88 L563.30,537.88 L563.80,537.88 L564.30,537.88 L564.80,537.88 L565.30,537.88 L565.80,537.89 L566.30,537.89 L566.80,537.89 L567.30,537.89 L567.80,537.89 L568.30,537.89 L568.80,537.89 L569.30,537.89 L569.80,537.89 L570.30,537.89 L570.80,537.89 L571.30,537.89 L571.80,537.89 L572.30,537.89 L572.80,537.89 L573.30,537.90 L573.80,537.90 L574.30,537.90 L574.80,537.90 L575.30,537.90 L575.80,537.90 L576.30,537.90 L576.80,537.90 L577.30,537.90 L577.80,537.90 L578.30,537.90 L578.80,537.90 L579.30,537.90 L579.80,537.90 L580.30,537.90 L580.80,537.90 L581.30,537.90 L581.80,537.90 L582.30,537.90 L582.80,537.90 L583.30,537.90" fill="none" stroke="#fdbe08" stroke-width="3.1" stroke-linecap="round" stroke-linejoin="round"/>
<text x="367.30" y="560.30" font-size="14.4" font-weight="bold" stroke="#fff" stroke-width="0.1" text-anchor="middle" textLength="24.4" lengthAdjust="spacingAndGlyphs">400</text>
<text x="403.34" y="560.30" font-size="14.4" font-weight="bold" stroke="#fff" stroke-width="0.1" text-anchor="middle" textLength="24.4" lengthAdjust="spacingAndGlyphs">450</text>
<text x="439.39" y="560.30" font-size="14.4" font-weight="bold" stroke="#fff" stroke-width="0.1" text-anchor="middle" textLength="24.4" lengthAdjust="spacingAndGlyphs">500</text>
<text x="475.43" y="560.30" font-size="14.4" font-weight="bold" stroke="#fff" stroke-width="0.1" text-anchor="middle" textLength="24.4" lengthAdjust="spacingAndGlyphs">550</text>
<text x="511.47" y="560.30" font-size="14.4" font-weight="bold" stroke="#fff" stroke-width="0.1" text-anchor="middle" textLength="24.4" lengthAdjust="spacingAndGlyphs">600</text>
<text x="547.51" y="560.30" font-size="14.4" font-weight="bold" stroke="#fff" stroke-width="0.1" text-anchor="middle" textLength="24.4" lengthAdjust="spacingAndGlyphs">650</text>
<text x="583.56" y="560.30" font-size="14.4" font-weight="bold" stroke="#fff" stroke-width="0.1" text-anchor="middle" textLength="24.4" lengthAdjust="spacingAndGlyphs">700</text>
<text x="619.60" y="560.30" font-size="14.4" font-weight="bold" stroke="#fff" stroke-width="0.1" text-anchor="middle" textLength="24.4" lengthAdjust="spacingAndGlyphs">750</text>
<text x="419.50" y="583.70" font-size="17" font-weight="bold" stroke="#fff" stroke-width="0.12" textLength="132.30" lengthAdjust="spacingAndGlyphs">wavelength (nm)</text>
<text transform="translate(346.00,541.00) rotate(-90)" font-size="17.2" stroke="#000" stroke-width="0.6" textLength="144.50" lengthAdjust="spacingAndGlyphs">PL emission (a.u.)</text>
<text x="521.60" y="431.20" font-size="17" stroke="#000" stroke-width="0.7" textLength="55.60" lengthAdjust="spacingAndGlyphs">585 nm</text>
</g>
<g id="panel7">
<path d="M41.40,620.60 V748.60 H296.30" fill="none" stroke="#ababab" stroke-width="1.25"/>
<path d="M41.40,748.60 v5 M77.81,748.60 v5 M114.23,748.60 v5 M150.64,748.60 v5 M187.06,748.60 v5 M223.47,748.60 v5 M259.89,748.60 v5 M296.30,748.60 v5 " fill="none" stroke="#ababab" stroke-width="1.2"/>
<path d="M41.40,620.60 H296.30 V748.60" fill="none" stroke="#5c7cab" stroke-width="1.2"/>
<clipPath id="cp6"><rect x="39.40" y="620.10" width="260.90" height="134.00"/></clipPath>
<path d="M49.20,616.00 C49.67,616.77 49.75,616.92 52.00,620.60 C54.25,624.28 58.83,631.83 62.70,638.10 C66.57,644.37 71.45,651.93 75.20,658.20 C78.95,664.47 82.28,670.70 85.20,675.70 C88.12,680.70 90.18,684.65 92.70,688.20 C95.22,691.75 97.37,693.95 100.30,697.00 C103.23,700.05 106.55,703.28 110.30,706.50 C114.05,709.72 118.63,713.08 122.80,716.30 C126.97,719.52 132.43,723.75 135.30,725.80 C138.17,727.85 138.45,727.93 140.00,728.60 C141.55,729.27 142.93,729.68 144.60,729.80 C146.27,729.92 148.20,729.48 150.00,729.30 C151.80,729.12 153.73,728.62 155.40,728.70 C157.07,728.78 158.40,729.15 160.00,729.80 C161.60,730.45 163.33,731.63 165.00,732.60 C166.67,733.57 168.27,734.80 170.00,735.60 C171.73,736.40 173.57,737.23 175.40,737.40 C177.23,737.57 179.23,737.20 181.00,736.60 C182.77,736.00 184.33,734.53 186.00,733.80 C187.67,733.07 189.33,732.52 191.00,732.20 C192.67,731.88 194.50,731.83 196.00,731.90 C197.50,731.97 198.50,731.95 200.00,732.60 C201.50,733.25 203.33,734.53 205.00,735.80 C206.67,737.07 208.33,738.83 210.00,740.20 C211.67,741.57 213.33,742.93 215.00,744.00 C216.67,745.07 218.17,745.97 220.00,746.60 C221.83,747.23 221.00,747.57 226.00,747.80 C231.00,748.03 238.28,747.97 250.00,748.00 C261.72,748.03 288.58,748.00 296.30,748.00" fill="none" stroke="#000" stroke-width="2.75" stroke-linecap="round" stroke-linejoin="round" clip-path="url(#cp6)"/>
<text x="40.40" y="770.70" font-size="14.4" font-weight="bold" stroke="#fff" stroke-width="0.1" text-anchor="middle" textLength="24.4" lengthAdjust="spacingAndGlyphs">400</text>
<text x="76.96" y="770.70" font-size="14.4" font-weight="bold" stroke="#fff" stroke-width="0.1" text-anchor="middle" textLength="24.4" lengthAdjust="spacingAndGlyphs">450</text>
<text x="113.51" y="770.70" font-size="14.4" font-weight="bold" stroke="#fff" stroke-width="0.1" text-anchor="middle" textLength="24.4" lengthAdjust="spacingAndGlyphs">500</text>
<text x="150.07" y="770.70" font-size="14.4" font-weight="bold" stroke="#fff" stroke-width="0.1" text-anchor="middle" textLength="24.4" lengthAdjust="spacingAndGlyphs">550</text>
<text x="186.63" y="770.70" font-size="14.4" font-weight="bold" stroke="#fff" stroke-width="0.1" text-anchor="middle" textLength="24.4" lengthAdjust="spacingAndGlyphs">600</text>
<text x="223.19" y="770.70" font-size="14.4" font-weight="bold" stroke="#fff" stroke-width="0.1" text-anchor="middle" textLength="24.4" lengthAdjust="spacingAndGlyphs">650</text>
<text x="259.74" y="770.70" font-size="14.4" font-weight="bold" stroke="#fff" stroke-width="0.1" text-anchor="middle" textLength="24.4" lengthAdjust="spacingAndGlyphs">700</text>
<text x="296.30" y="770.70" font-size="14.4" font-weight="bold" stroke="#fff" stroke-width="0.1" text-anchor="middle" textLength="24.4" lengthAdjust="spacingAndGlyphs">750</text>
<text x="87.50" y="787.80" font-size="17" font-weight="bold" stroke="#fff" stroke-width="0.12" textLength="132.40" lengthAdjust="spacingAndGlyphs">wavelength (nm)</text>
<text transform="translate(21.60,755.20) rotate(-90)" font-size="17.2" stroke="#000" stroke-width="0.6" textLength="135.20" lengthAdjust="spacingAndGlyphs">Absorption (a.u.)</text>
</g>
<g id="panel8">
<path d="M376.10,616.50 V744.80 H627.90" fill="none" stroke="#ababab" stroke-width="1.25"/>
<path d="M376.10,744.80 v5 M412.07,744.80 v5 M448.04,744.80 v5 M484.01,744.80 v5 M519.99,744.80 v5 M555.96,744.80 v5 M591.93,744.80 v5 M627.90,744.80 v5 " fill="none" stroke="#ababab" stroke-width="1.2"/>
<path d="M376.10,616.50 H627.90 V744.80" fill="none" stroke="#5c7cab" stroke-width="1.2"/>
<path d="M491.50,744.56 L492.00,744.52 L492.50,744.49 L493.00,744.46 L493.50,744.42 L494.00,744.38 L494.50,744.34 L495.00,744.30 L495.50,744.25 L496.00,744.20 L496.50,744.16 L497.00,744.10 L497.50,744.05 L498.00,743.99 L498.50,743.93 L499.00,743.86 L499.50,743.79 L500.00,743.72 L500.50,743.64 L501.00,743.55 L501.50,743.46 L502.00,743.36 L502.50,743.26 L503.00,743.14 L503.50,743.02 L504.00,742.89 L504.50,742.74 L505.00,742.58 L505.50,742.40 L506.00,742.21 L506.50,742.00 L507.00,741.77 L507.50,741.51 L508.00,741.23 L508.50,740.92 L509.00,740.57 L509.50,740.19 L510.00,739.78 L510.50,739.32 L511.00,738.81 L511.50,738.25 L512.00,737.64 L512.50,736.97 L513.00,736.23 L513.50,735.43 L514.00,734.54 L514.50,733.58 L515.00,732.53 L515.50,731.40 L516.00,730.17 L516.50,728.83 L517.00,727.40 L517.50,725.85 L518.00,724.19 L518.50,722.42 L519.00,720.53 L519.50,718.52 L520.00,716.38 L520.50,714.13 L521.00,711.75 L521.50,709.26 L522.00,706.65 L522.50,703.93 L523.00,701.10 L523.50,698.17 L524.00,695.15 L524.50,692.06 L525.00,688.89 L525.50,685.67 L526.00,682.40 L526.50,679.12 L527.00,675.82 L527.50,672.53 L528.00,669.27 L528.50,666.06 L529.00,662.92 L529.50,659.87 L530.00,656.94 L530.50,654.14 L531.00,651.51 L531.50,649.06 L532.00,646.81 L532.50,644.79 L533.00,643.02 L533.50,641.51 L534.00,640.29 L534.50,639.39 L535.00,638.81 L535.50,638.60 L536.00,638.81 L536.50,639.39 L537.00,640.29 L537.50,641.51 L538.00,643.02 L538.50,644.79 L539.00,646.81 L539.50,649.06 L540.00,651.51 L540.50,654.14 L541.00,656.94 L541.50,659.87 L542.00,662.92 L542.50,666.06 L543.00,669.27 L543.50,672.53 L544.00,675.82 L544.50,679.12 L545.00,682.40 L545.50,685.67 L546.00,688.89 L546.50,692.06 L547.00,695.15 L547.50,698.17 L548.00,701.10 L548.50,703.93 L549.00,706.65 L549.50,709.26 L550.00,711.75 L550.50,714.13 L551.00,716.38 L551.50,718.52 L552.00,720.53 L552.50,722.42 L553.00,724.19 L553.50,725.85 L554.00,727.40 L554.50,728.83 L555.00,730.17 L555.50,731.40 L556.00,732.53 L556.50,733.58 L557.00,734.54 L557.50,735.43 L558.00,736.23 L558.50,736.97 L559.00,737.64 L559.50,738.25 L560.00,738.81 L560.50,739.32 L561.00,739.78 L561.50,740.19 L562.00,740.57 L562.50,740.92 L563.00,741.23 L563.50,741.51 L564.00,741.77 L564.50,742.00 L565.00,742.21 L565.50,742.40 L566.00,742.58 L566.50,742.74 L567.00,742.89 L567.50,743.02 L568.00,743.14 L568.50,743.26 L569.00,743.36 L569.50,743.46 L570.00,743.55 L570.50,743.64 L571.00,743.72 L571.50,743.79 L572.00,743.86 L572.50,743.93 L573.00,743.99 L573.50,744.05 L574.00,744.10 L574.50,744.16 L575.00,744.20 L575.50,744.25 L576.00,744.30 L576.50,744.34 L577.00,744.38 L577.50,744.42 L578.00,744.46 L578.50,744.49 L579.00,744.52 L579.50,744.56 L580.00,744.59 L580.50,744.62 L581.00,744.64 L581.50,744.67 L582.00,744.69 L582.50,744.72 L583.00,744.74 L583.50,744.76 L584.00,744.78 L584.50,744.80 L585.00,744.82 L585.50,744.84 L586.00,744.85 L586.50,744.87 L587.00,744.88 L587.50,744.90 L588.00,744.91 L588.50,744.92 L589.00,744.93 L589.50,744.94 L590.00,744.96 L590.50,744.97 L591.00,744.97 L591.50,744.98 L592.00,744.99" fill="none" stroke="#ff0000" stroke-width="2.8" stroke-linecap="round" stroke-linejoin="round"/>
<text x="375.30" y="767.40" font-size="14.4" font-weight="bold" stroke="#fff" stroke-width="0.1" text-anchor="middle" textLength="24.4" lengthAdjust="spacingAndGlyphs">400</text>
<text x="411.39" y="767.40" font-size="14.4" font-weight="bold" stroke="#fff" stroke-width="0.1" text-anchor="middle" textLength="24.4" lengthAdjust="spacingAndGlyphs">450</text>
<text x="447.47" y="767.40" font-size="14.4" font-weight="bold" stroke="#fff" stroke-width="0.1" text-anchor="middle" textLength="24.4" lengthAdjust="spacingAndGlyphs">500</text>
<text x="483.56" y="767.40" font-size="14.4" font-weight="bold" stroke="#fff" stroke-width="0.1" text-anchor="middle" textLength="24.4" lengthAdjust="spacingAndGlyphs">550</text>
<text x="519.64" y="767.40" font-size="14.4" font-weight="bold" stroke="#fff" stroke-width="0.1" text-anchor="middle" textLength="24.4" lengthAdjust="spacingAndGlyphs">600</text>
<text x="555.73" y="767.40" font-size="14.4" font-weight="bold" stroke="#fff" stroke-width="0.1" text-anchor="middle" textLength="24.4" lengthAdjust="spacingAndGlyphs">650</text>
<text x="591.81" y="767.40" font-size="14.4" font-weight="bold" stroke="#fff" stroke-width="0.1" text-anchor="middle" textLength="24.4" lengthAdjust="spacingAndGlyphs">700</text>
<text x="627.90" y="767.40" font-size="14.4" font-weight="bold" stroke="#fff" stroke-width="0.1" text-anchor="middle" textLength="24.4" lengthAdjust="spacingAndGlyphs">750</text>
<text x="428.00" y="787.80" font-size="17" font-weight="bold" stroke="#fff" stroke-width="0.12" textLength="133.20" lengthAdjust="spacingAndGlyphs">wavelength (nm)</text>
<text transform="translate(345.60,762.30) rotate(-90)" font-size="17.2" stroke="#000" stroke-width="0.6" textLength="144.30" lengthAdjust="spacingAndGlyphs">PL emission (a.u.)</text>
<text x="555.40" y="643.40" font-size="17" stroke="#000" stroke-width="0.7" textLength="56.00" lengthAdjust="spacingAndGlyphs">622 nm</text>
</g>
</svg></body></html>
